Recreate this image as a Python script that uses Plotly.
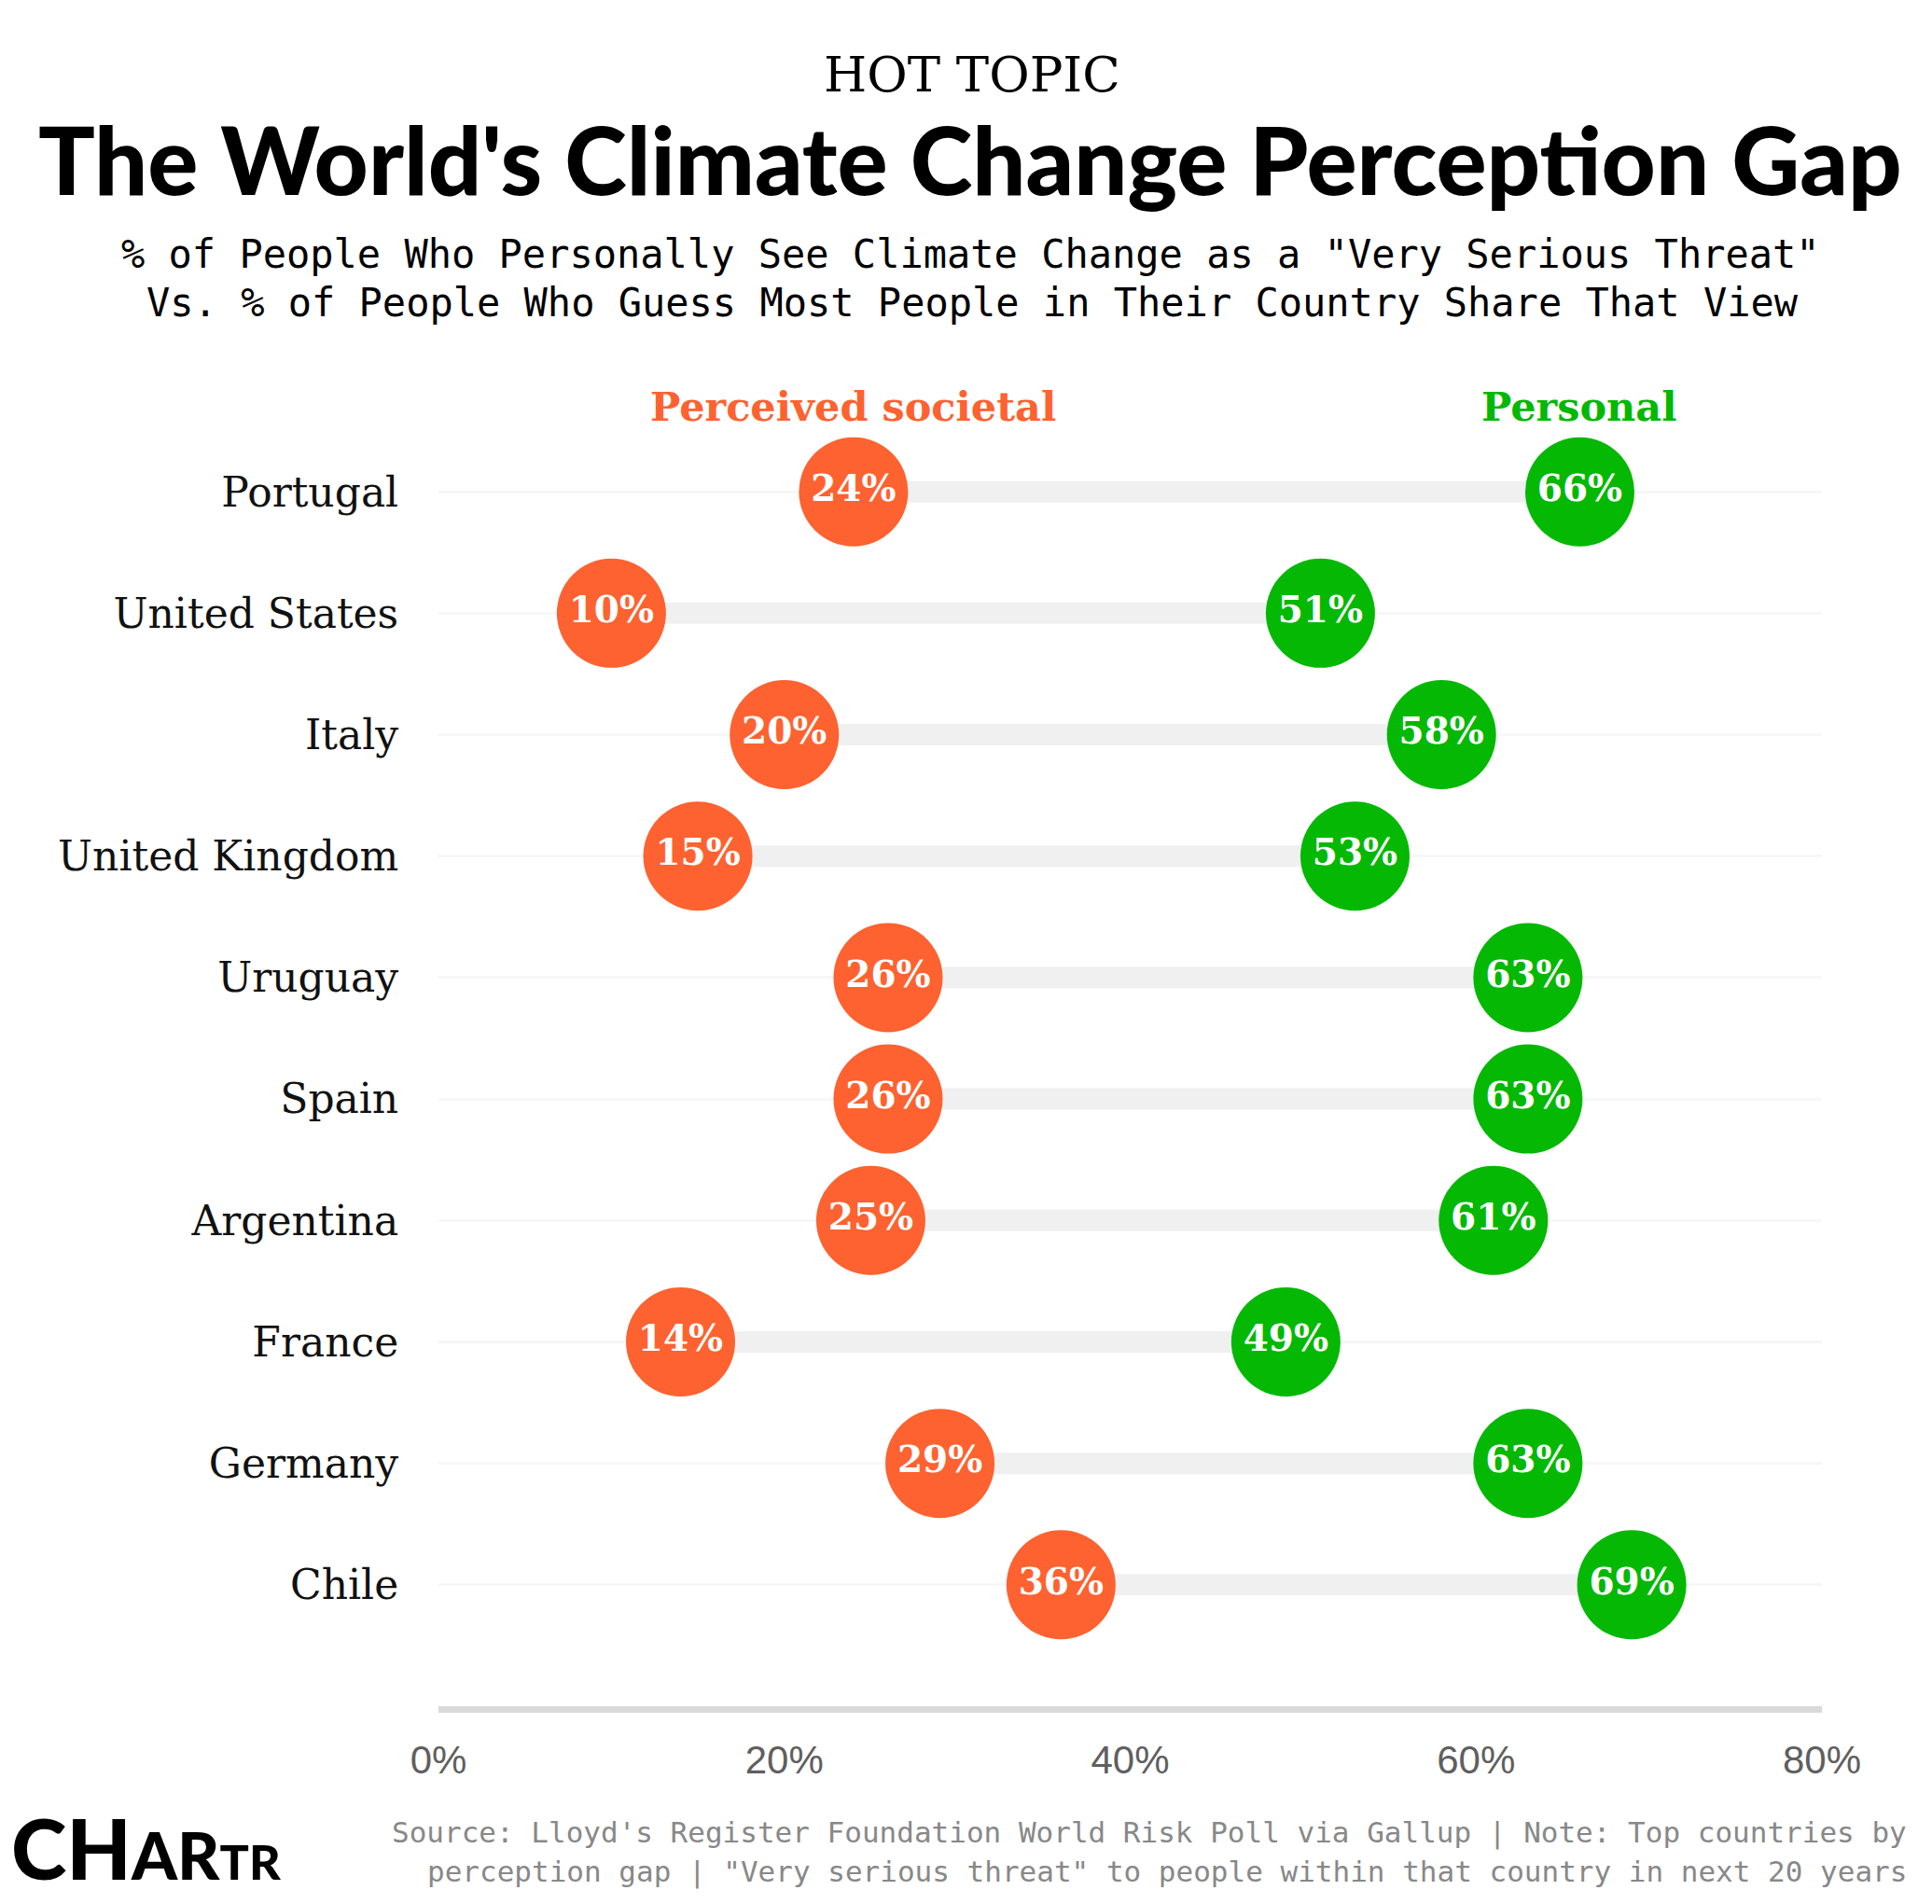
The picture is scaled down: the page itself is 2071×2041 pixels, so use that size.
import plotly.graph_objects as go

# data
countries = ["Portugal", "United States", "Italy", "United Kingdom", "Uruguay",
             "Spain", "Argentina", "France", "Germany", "Chile"]
societal = [24, 10, 20, 15, 26, 26, 25, 14, 29, 36]
personal = [66, 51, 58, 53, 63, 63, 61, 49, 63, 69]
x_ticks = [0, 20, 40, 60, 80]

ORANGE = "#FD6230"
GREEN = "#04B804"
SERIF = "DejaVu Serif, Liberation Serif, serif"
MONO = "DejaVu Sans Mono, Liberation Mono, monospace"
HEAVY = "Lato, Roboto, sans-serif"

W, H = 2071, 2041
OFF = 8  # page body margin
ML, MT, PW, PH = 462, 389, 1483, 1432
MR, MB = W - ML - PW, H - MT - PH


def px(x):
    # page pixel -> paper x
    return (x - OFF - ML) / PW


def py(y):
    # page pixel -> paper y
    return (MT + PH - (y - OFF)) / PH


fig = go.Figure()

# connector bars
seg_x, seg_y = [], []
for c, s, p in zip(countries, societal, personal):
    seg_x += [s, p, None]
    seg_y += [c, c, None]
fig.add_trace(go.Scatter(x=seg_x, y=seg_y, mode="lines",
                         line=dict(color="#f0f0f0", width=23),
                         hoverinfo="skip"))

for vals, col in [(societal, ORANGE), (personal, GREEN)]:
    fig.add_trace(go.Scatter(
        x=vals, y=countries, mode="markers+text",
        marker=dict(size=117, color=col, line=dict(width=0)),
        text=[f"{v}%" for v in vals], textposition="middle center",
        textfont=dict(family=SERIF, size=39, color="white", weight="bold"),
        cliponaxis=False,
    ))

# series headings above first row
fig.add_annotation(x=societal[0], y=-0.7, xref="x", yref="y",
                   text="<b>Perceived societal</b>", showarrow=False,
                   xanchor="center", yanchor="middle",
                   font=dict(family=SERIF, size=43, color=ORANGE))
fig.add_annotation(x=personal[0], y=-0.7, xref="x", yref="y",
                   text="<b>Personal</b>", showarrow=False,
                   xanchor="center", yanchor="middle",
                   font=dict(family=SERIF, size=43, color=GREEN))


def note(text, x, y, font, xanchor="center", yanchor="middle"):
    fig.add_annotation(x=px(x), y=py(y), xref="paper", yref="paper",
                       text=text, showarrow=False,
                       xanchor=xanchor, yanchor=yanchor, font=font)


# header text
note("HOT TOPIC", 1042, 79, dict(family=SERIF, size=53, color="black"))
note("The World's Climate Change Perception Gap", 1040, 170,
     dict(family=HEAVY, size=101, color="black", weight=900))
note('% of People Who Personally See Climate Change as a "Very Serious Threat"',
     1040, 273, dict(family=MONO, size=42, color="black"))
note("Vs. % of People Who Guess Most People in Their Country Share That View",
     1042, 324, dict(family=MONO, size=42, color="black"))

# footer
note("Source: Lloyd's Register Foundation World Risk Poll via Gallup | Note: Top countries by",
     2046, 1964, dict(family=MONO, size=31, color="#888888"), xanchor="right")
note('perception gap | "Very serious threat" to people within that country in next 20 years',
     2046, 2006, dict(family=MONO, size=31, color="#888888"), xanchor="right")
note('CH<span style="font-size:70px">AR</span><span style="font-size:52px">TR</span>',
     10, 2036, dict(family=HEAVY, size=90, color="black", weight=900),
     xanchor="left", yanchor="bottom")

fig.update_xaxes(range=[0, 80], tickvals=x_ticks,
                 ticktext=[f"{t}%" for t in x_ticks],
                 showgrid=False, zeroline=False,
                 showline=True, linecolor="#d9d9d9", linewidth=7,
                 ticks="outside", ticklen=15, tickcolor="rgba(0,0,0,0)",
                 tickfont=dict(family="Liberation Sans, Arial, sans-serif",
                               size=42, color="#5f5f5f"),
                 fixedrange=True)
fig.update_yaxes(type="category", categoryorder="array", categoryarray=countries,
                 range=[10, -1], showgrid=True, gridcolor="#f7f7f7", gridwidth=3,
                 zeroline=False, showline=False,
                 ticks="outside", ticklen=33, tickcolor="rgba(0,0,0,0)",
                 tickfont=dict(family=SERIF, size=44, color="#111111"),
                 fixedrange=True)

fig.update_layout(width=W, height=H, showlegend=False,
                  margin=dict(l=ML, r=MR, t=MT, b=MB, autoexpand=False),
                  plot_bgcolor="white", paper_bgcolor="white")

fig.write_html("out.html")
